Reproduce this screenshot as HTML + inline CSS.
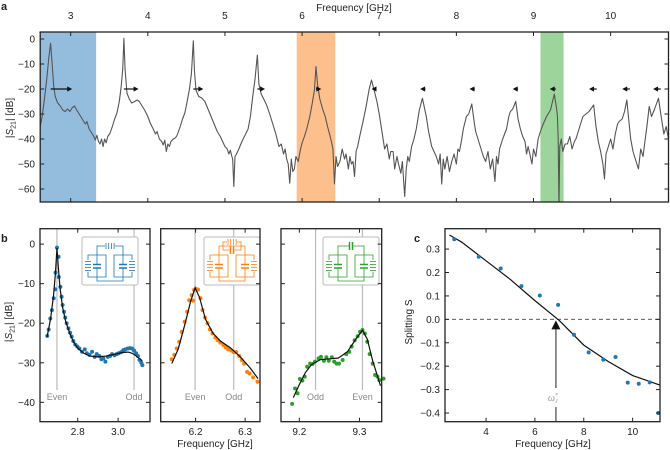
<!DOCTYPE html>
<html><head><meta charset="utf-8"><style>
html,body{margin:0;padding:0;background:#fff;}
svg{display:block;font-family:"Liberation Sans",sans-serif;}
</style></head><body>
<svg id="fig" width="670" height="450" viewBox="0 0 670 450" xmlns="http://www.w3.org/2000/svg"></svg>
<script>
// ---------- Panel a data ----------
const aFreq = [2.605,2.63,2.66,2.69,2.715,2.74,2.76,2.78,2.80,2.83,2.87,2.90,2.93,2.96,2.99,3.02,3.05,3.08,3.11,3.13,3.16,3.19,3.21,3.24,3.27,3.30,3.32,3.34,3.36,3.38,3.40,3.42,3.44,3.46,3.48,3.51,3.54,3.57,3.60,3.63,3.655,3.675,3.69,3.705,3.73,3.76,3.79,3.83,3.86,3.89,3.93,3.96,4.00,4.03,4.07,4.10,4.12,4.15,4.18,4.20,4.22,4.24,4.26,4.28,4.30,4.33,4.36,4.38,4.42,4.45,4.48,4.51,4.54,4.565,4.59,4.605,4.625,4.66,4.70,4.74,4.78,4.82,4.86,4.90,4.94,4.97,5.00,5.03,5.05,5.07,5.09,5.10,5.115,5.13,5.15,5.18,5.22,5.26,5.30,5.33,5.36,5.39,5.42,5.44,5.47,5.51,5.54,5.58,5.62,5.66,5.70,5.73,5.76,5.78,5.80,5.82,5.84,5.86,5.88,5.90,5.92,5.95,5.98,6.00,6.03,6.06,6.10,6.13,6.16,6.18,6.20,6.23,6.27,6.30,6.33,6.36,6.38,6.40,6.42,6.44,6.46,6.49,6.52,6.55,6.57,6.60,6.62,6.64,6.66,6.68,6.70,6.72,6.75,6.79,6.83,6.87,6.90,6.93,6.97,7.00,7.03,7.05,7.07,7.10,7.13,7.15,7.18,7.20,7.23,7.25,7.28,7.30,7.33,7.35,7.37,7.39,7.42,7.45,7.48,7.52,7.56,7.61,7.64,7.68,7.71,7.74,7.77,7.79,7.81,7.83,7.85,7.88,7.91,7.94,7.97,8.00,8.02,8.04,8.07,8.09,8.13,8.16,8.20,8.23,8.25,8.28,8.32,8.35,8.38,8.41,8.44,8.47,8.50,8.52,8.54,8.56,8.60,8.65,8.68,8.70,8.73,8.77,8.80,8.83,8.86,8.89,8.91,8.93,8.95,8.98,9.00,9.03,9.06,9.10,9.14,9.17,9.22,9.27,9.30,9.31,9.32,9.33,9.34,9.36,9.38,9.41,9.44,9.47,9.50,9.53,9.55,9.58,9.61,9.64,9.68,9.72,9.78,9.81,9.84,9.87,9.90,9.92,9.94,9.97,10.00,10.03,10.06,10.09,10.11,10.15,10.18,10.21,10.24,10.26,10.29,10.32,10.36,10.39,10.42,10.44,10.47,10.50,10.53,10.57,10.62,10.65,10.69,10.72,10.75];
const aDb = [-35,-31,-24,-16,-8,-1.7,-10,-19,-23,-25.5,-27,-28.5,-29,-28,-29,-27.5,-26.8,-28.5,-30,-31,-32.5,-34,-33,-36,-37.5,-39,-40.4,-38.5,-41,-42,-40,-43,-40,-41.5,-39,-37.7,-35,-32,-29.6,-25,-19,-12,0.3,-12,-21.7,-24,-25.6,-25,-24.4,-25,-27,-28.5,-31,-33.5,-36,-38,-37,-40,-41,-42.4,-40.5,-45,-42,-43,-41,-40,-39.5,-38.5,-35,-32,-29.6,-25,-20,-14,-0.7,-13,-20.5,-23,-23.6,-25,-28,-31,-34,-37,-39,-41,-43,-44,-46,-44.5,-47,-48,-59,-47,-46,-44,-41,-38.5,-36,-31,-23,-16,-6.4,-18,-22,-24.5,-26.4,-30,-34,-38,-43,-42,-46,-44,-48,-50,-57.7,-48,-53,-52,-47,-49,-44,-41.6,-39,-36,-31,-26,-20.4,-11,-18,-24,-28.4,-31,-35,-38.5,-41,-44,-58,-47,-51,-49,-44,-48,-46,-52,-47,-50,-49,-55,-45,-43,-38.5,-33,-27,-20,-16.4,-20,-25,-30,-36,-40,-44,-42,-48,-45,-45,-52,-47,-50,-53.7,-49,-63,-52,-47,-49,-43,-40,-36,-28.4,-23.7,-31,-37,-43,-45,-47,-50,-46,-58,-48,-52,-47,-53,-49,-46,-50,-44,-45,-40,-36,-31,-30,-26,-33,-37,-40,-44,-47,-49,-45,-52,-48,-57,-47,-50,-44,-40,-36,-31,-29,-28,-25,-32,-36,-39,-41,-46,-43,-45.7,-50,-44,-47,-40,-36,-33,-31,-28.4,-22,-28,-31,-40,-68,-43,-40,-45,-42,-42,-39,-44,-41,-40,-37,-34,-31,-30,-29,-26.4,-35,-41,-45,-50,-56,-46,-43,-40,-44,-38,-34,-33,-32,-29,-24.4,-34,-40,-45,-48,-52,-44,-47,-42,-35,-27,-31,-28,-23.7,-30,-38,-35,-40];
const aXTicks = [3,4,5,6,7,8,9,10];
const aYTicks = [0,-10,-20,-30,-40,-50,-60];
const arrowFrom = [2.74,3.69,4.59,5.42,6.18,6.95,7.60,8.24,8.80,9.29,9.82,10.25,10.65];
const arrowTo   = [3.02,3.88,4.72,5.52,6.25,6.90,7.53,8.17,8.73,9.21,9.72,10.15,10.55];
const bands = [[2.605,3.33,'#94bddd'],[5.93,6.43,'#fdc08d'],[9.09,9.39,'#9dd49c']];

// ---------- Panel b data ----------
const b1F = [2.649,2.656,2.664,2.672,2.681,2.689,2.690,2.697,2.705,2.706,2.714,2.72,2.725,2.732,2.738,2.745,2.754,2.762,2.77,2.778,2.788,2.798,2.808,2.821,2.835,2.845,2.858,2.871,2.884,2.894,2.907,2.917,2.927,2.937,2.949,2.96,2.97,2.982,2.993,3.003,3.015,3.026,3.036,3.048,3.059,3.069,3.079,3.089,3.098,3.106,3.115,3.12];
const b1D = [-23.2,-21.6,-18.8,-16.7,-13.7,-11.4,-7.2,-0.9,-3.2,-8.3,-10.8,-13.3,-15.4,-17.1,-18.6,-20.0,-21.3,-22.4,-23.4,-24.5,-25.4,-25.9,-26.4,-27.2,-26.6,-27.6,-28.0,-27.2,-28.5,-27.8,-28.3,-29.1,-28.9,-29.7,-28.5,-28.3,-27.8,-28.1,-27.8,-27.6,-27.3,-26.8,-26.6,-26.4,-26.3,-26.4,-26.9,-27.6,-28.3,-29.3,-30.0,-30.6];
const b1FitF = [2.648,2.665,2.68,2.69,2.697,2.704,2.712,2.725,2.74,2.76,2.78,2.80,2.83,2.86,2.90,2.94,2.98,3.02,3.05,3.07,3.09,3.12];
const b1FitD = [-23.5,-19,-13,-7,-1,-6,-11,-16,-19.5,-22.5,-24.8,-26.3,-27.6,-28.3,-28.5,-28.3,-27.9,-27.4,-27.3,-27.6,-28.3,-29.5];
const b2F = [6.152,6.157,6.162,6.167,6.172,6.178,6.183,6.187,6.192,6.195,6.197,6.201,6.205,6.21,6.214,6.219,6.224,6.229,6.234,6.24,6.245,6.25,6.256,6.261,6.266,6.272,6.277,6.282,6.288,6.293,6.298,6.304,6.309,6.316,6.325];
const b2D = [-29.1,-28.0,-26.4,-24.7,-22.2,-19.6,-17.1,-14.2,-12.9,-14.3,-11.6,-11.3,-11.5,-13.7,-16.7,-18.6,-20.0,-21.6,-22.6,-23.6,-24.3,-24.9,-25.5,-26.1,-26.6,-26.9,-27.3,-27.3,-28.3,-29.3,-30.2,-32.3,-32.7,-33.7,-34.8];
const b2FitF = [6.152,6.165,6.178,6.19,6.199,6.208,6.22,6.235,6.25,6.27,6.29,6.31,6.326];
const b2FitD = [-30.2,-26.5,-20.5,-14.5,-11,-13.5,-19,-22.5,-24.5,-26.2,-28.5,-31.3,-34.0];
const b3F = [9.188,9.193,9.197,9.201,9.205,9.209,9.213,9.218,9.222,9.226,9.232,9.236,9.241,9.245,9.249,9.254,9.258,9.262,9.266,9.272,9.278,9.283,9.287,9.292,9.297,9.301,9.305,9.309,9.313,9.317,9.322,9.326,9.33,9.333,9.34];
const b3D = [-40.4,-36.5,-37.7,-34.1,-34.5,-33.5,-31.0,-30.2,-30.3,-29.7,-28.9,-28.5,-29.5,-28.6,-29.5,-28.6,-29.7,-30.2,-30.2,-29.3,-27.8,-27.2,-25.9,-24.3,-23.3,-22.2,-21.7,-22.6,-24.7,-27.8,-30.2,-33.1,-33.5,-34.4,-34.0];
const b3FitF = [9.19,9.2,9.21,9.22,9.235,9.25,9.265,9.28,9.295,9.305,9.313,9.322,9.335];
const b3FitD = [-38.8,-35.5,-32.5,-30.5,-29.2,-29.0,-28.8,-27.2,-23.8,-21.8,-24,-29.5,-35.8];
const bYTicks = [0,-10,-20,-30,-40];
const b1XTicks = [2.8,3.0], b2XTicks = [6.2,6.3], b3XTicks = [9.2,9.3];
const b1Lines = [[2.697,'Even'],[3.079,'Odd']];
const b2Lines = [[6.199,'Even'],[6.277,'Odd']];
const b3Lines = [[9.227,'Odd'],[9.305,'Even']];

// ---------- Panel c data ----------
const cF = [2.70,3.70,4.60,5.45,6.20,6.95,7.60,8.20,8.80,9.30,9.80,10.25,10.70,11.05];
const cS = [0.342,0.267,0.217,0.142,0.102,0.062,-0.066,-0.141,-0.172,-0.161,-0.270,-0.275,-0.269,-0.400];
const cFitF = [2.5,3,4,5,6,7,8,9,10,11.1];
const cFitS = [0.36,0.33,0.25,0.17,0.08,-0.005,-0.11,-0.18,-0.24,-0.28];
const cXTicks = [4,6,8,10];
const cYTicks = [0.3,0.2,0.1,0.0,-0.1,-0.2,-0.3,-0.4];
const cOmega = 6.86;

// ---------- drawing ----------
const NS = 'http://www.w3.org/2000/svg';
const svg = document.getElementById('fig');
function mk(tag, attrs, parent){
  const e = document.createElementNS(NS, tag);
  for (const k in attrs) e.setAttribute(k, attrs[k]);
  (parent||svg).appendChild(e);
  return e;
}
function txt(x,y,s,size,anchor,parent,extra){
  const t = mk('text', Object.assign({x:x,y:y,'font-size':size,'text-anchor':anchor||'middle',fill:'#222'}, extra||{}), parent);
  t.textContent = s;
  return t;
}
function fmt(v,d){ return (v<0?'\u2212':'')+Math.abs(v).toFixed(d); }

function axis(x0,x1,y0,y1,f0,f1,v0,v1){
  return {x:f=>x0+(f-f0)/(f1-f0)*(x1-x0), y:v=>y1-(v-v0)/(v1-v0)*(y1-y0), x0,x1,y0,y1};
}
function clip(id,A){
  const defs = mk('defs',{});
  const cp = mk('clipPath',{id:id},defs);
  mk('rect',{x:A.x0,y:A.y0,width:A.x1-A.x0,height:A.y1-A.y0},cp);
}
function frame(A,name){
  const r = mk('rect',{x:A.x0,y:A.y0,width:A.x1-A.x0,height:A.y1-A.y0,fill:'none',stroke:'#222','stroke-width':1.3});
  
  
}
function ticksX(A,vals,labelY,dec,name){
  const g = mk('g',{});
  
  
  vals.forEach(v=>{
    const x=A.x(v);
    mk('line',{x1:x,x2:x,y1:A.y0,y2:A.y0+4,stroke:'#222','stroke-width':1},g);
    mk('line',{x1:x,x2:x,y1:A.y1,y2:A.y1-4,stroke:'#222','stroke-width':1},g);
    if(labelY!==null){
      const t = txt(x,labelY,dec===0?String(v):fmt(v,dec),10,'middle',g);
      
      
    }
  });
}
function ticksY(A,vals,labelX,dec,name){
  const g = mk('g',{});
  
  
  vals.forEach(v=>{
    const y=A.y(v);
    mk('line',{x1:A.x0,x2:A.x0+4,y1:y,y2:y,stroke:'#222','stroke-width':1},g);
    mk('line',{x1:A.x1,x2:A.x1-4,y1:y,y2:y,stroke:'#222','stroke-width':1},g);
    if(labelX!==null){
      const t = txt(labelX,y+3.5,fmt(v,dec),10,'end',g);
      
      
    }
  });
}
function poly(A,fs,vs,attrs,name,clipId){
  const pts = fs.map((f,i)=>A.x(f).toFixed(2)+','+A.y(vs[i]).toFixed(2)).join(' ');
  const a = Object.assign({points:pts,fill:'none'},attrs);
  if(clipId) a['clip-path']='url(#'+clipId+')';
  const p = mk('polyline',a);
  
  
  return p;
}
function dots(A,fs,vs,color,r,name){
  const g = mk('g',{});
  
  
  fs.forEach((f,i)=>{
    const c = mk('circle',{cx:A.x(f),cy:A.y(vs[i]),r:r,fill:color},g);
    
    
  });
}

// ===== Panel a =====
const A = axis(40.2,668.5,32,202,2.605,10.75,-65.2,2.8);
clip('clipA',A);
bands.forEach(b=>{
  const r = mk('rect',{x:A.x(b[0]),y:A.y0,width:A.x(b[1])-A.x(b[0]),height:A.y1-A.y0,fill:b[2]});
  
  
});
poly(A,aFreq,aDb,{stroke:'#555','stroke-width':1.1,'stroke-linejoin':'round'},'s21-trace','clipA');
arrowFrom.forEach((f0,i)=>{
  const f1 = arrowTo[i], y = A.y(-20), x0=A.x(f0), x1=A.x(f1), d = x1>x0?1:-1;
  const g = mk('g',{});
  
  
  mk('line',{x1:x0,x2:x1-d*3,y1:y,y2:y,stroke:'#111','stroke-width':1.2},g);
  mk('polygon',{points:`${x1},${y} ${x1-d*5},${y-2.6} ${x1-d*5},${y+2.6}`,fill:'#111'},g);
});
frame(A,'panel-a-frame');
ticksX(A,aXTicks,null,0,'panel-a-bottom-ticks');
(function(){
  const g = mk('g',{});
  
  
  aXTicks.forEach(v=>{ const t=txt(A.x(v),19,String(v),10,'middle',g);   });
})();
ticksY(A,aYTicks,35,0,'panel-a-y-ticks');
let t;
t = txt(354,11,'Frequency [GHz]',10,'middle');


t = mk('text',{x:0,y:0,'font-size':10,'text-anchor':'middle',fill:'#222',transform:'translate(13,118) rotate(-90)'});
t.innerHTML = '|<tspan font-style="italic">S</tspan><tspan font-size="7" dy="2.5">21</tspan><tspan dy="-2.5">| [dB]</tspan>';


t = txt(1,10,'a',11,'start',null,{'font-weight':'bold'});



// ===== Panel b =====
function circuit(x,y,color,kind,name){
  const g = mk('g',{transform:`translate(${x},${y})`});
  
  
  mk('rect',{x:0,y:0,width:56,height:48,rx:2,fill:'#fff',stroke:'#bbb','stroke-width':1},g);
  const s={stroke:color,'stroke-width':0.8,fill:'none'};
  const loop=(lx,mirror)=>{
    const cx = lx+9, coilX = mirror? lx+18 : lx;
    mk('path',Object.assign({d:`M${lx} 18 H${lx+18} V40 H${lx} Z`},s),g);
    mk('rect',{x:cx-4,y:27.5,width:8,height:3.5,fill:'#fff'},g);
    mk('line',Object.assign({x1:cx-4,x2:cx+4,y1:27.5,y2:27.5},s,{'stroke-width':1.5}),g);
    mk('line',Object.assign({x1:cx-4,x2:cx+4,y1:31,y2:31},s,{'stroke-width':1.5}),g);
    mk('line',Object.assign({x1:cx,x2:cx,y1:18,y2:27.5},s),g);
    mk('line',Object.assign({x1:cx,x2:cx,y1:31,y2:40},s),g);
    mk('rect',{x:coilX-3,y:23,width:6,height:12,fill:'#fff'},g);
    for(let k=0;k<4;k++) mk('line',Object.assign({x1:coilX-3,x2:coilX+3,y1:24.5+k*3,y2:24.5+k*3},s),g);
  };
  loop(6,false); loop(32,true);
  mk('path',Object.assign({d:'M15 18 V9 H41 V18'},s),g);
  mk('path',Object.assign({d:'M15 40 V44 H41 V40'},s),g);
  if(kind==='L'||kind==='LC'){
    const yy = kind==='LC'?5:9;
    if(kind==='LC') mk('path',Object.assign({d:'M19 9 V5 H37 V9'},s),g);
    mk('rect',{x:23,y:yy-3,width:10,height:6,fill:'#fff'},g);
    for(let k=0;k<4;k++) mk('line',Object.assign({x1:24+k*2.7,x2:24+k*2.7,y1:yy-3,y2:yy+3},s),g);
  }
  if(kind==='C'||kind==='LC'){
    const yy = kind==='LC'?13:9;
    if(kind==='LC') mk('path',Object.assign({d:'M19 9 V13 H37 V9'},s),g);
    mk('rect',{x:26.5,y:yy-4,width:3,height:8,fill:'#fff'},g);
    mk('line',Object.assign({x1:26.5,x2:26.5,y1:yy-4,y2:yy+4},s,{'stroke-width':1.5}),g);
    mk('line',Object.assign({x1:29.5,x2:29.5,y1:yy-4,y2:yy+4},s,{'stroke-width':1.5}),g);
  }
}
function subB(x0,x1,f0,f1,F,D,FitF,FitD,xt,lines,color,kind,idx,showY){
  const B = axis(x0,x1,228.7,421.7,f0,f1,-44.9,3.9);
  lines.forEach(l=>{
    const x=B.x(l[0]);
    const ln = mk('line',{x1:x,x2:x,y1:B.y0,y2:390,stroke:'#bbb','stroke-width':1.2});
    
    
    const tt = txt(x,400,l[1],9,'middle',null,{fill:'#888'});
    
    
  });
  circuit([82,204,323][idx], 237, color, kind, 'circuit-inset-'+(idx+1));
  dots(B,F,D,color,2,'measured-points-'+(idx+1));
  poly(B,FitF,FitD,{stroke:'#111','stroke-width':1.2},'fit-line-'+(idx+1));
  frame(B,'panel-b-frame-'+(idx+1));
  ticksX(B,xt,435,1,'panel-b-x-ticks-'+(idx+1));
  ticksY(B,bYTicks,showY?35:null,0,'panel-b-y-ticks-'+(idx+1));
}
subB(40,150,2.613,3.158,b1F,b1D,b1FitF,b1FitD,b1XTicks,b1Lines,'#1f77b4','L',0,true);
subB(160.7,260,6.1296,6.33,b2F,b2D,b2FitF,b2FitD,b2XTicks,b2Lines,'#ff7f0e','LC',1,false);
subB(281,381.7,9.1695,9.337,b3F,b3D,b3FitF,b3FitD,b3XTicks,b3Lines,'#2ca02c','C',2,false);
t = txt(215,447,'Frequency [GHz]',10,'middle');


t = mk('text',{x:0,y:0,'font-size':10,'text-anchor':'middle',fill:'#222',transform:'translate(12,322) rotate(-90)'});
t.innerHTML = '|<tspan font-style="italic">S</tspan><tspan font-size="7" dy="2.5">21</tspan><tspan dy="-2.5">| [dB]</tspan>';


t = txt(1,242,'b',11,'start',null,{'font-weight':'bold'});



// ===== Panel c =====
const C = axis(445,660,228.7,421.7,2.32,11.12,-0.437,0.387);
clip('clipC',C);
let ln = mk('line',{x1:C.x0,x2:C.x1,y1:C.y(0),y2:C.y(0),stroke:'#444','stroke-width':0.9,'stroke-dasharray':'4,3'});


poly(C,cFitF,cFitS,{stroke:'#111','stroke-width':1.2},'splitting-fit-line','clipC');
dots(C,cF,cS,'#1f77b4',2,'splitting-points');
(function(){
  const x=C.x(cOmega), y0=C.y(0);
  const g = mk('g',{});
  
  
  mk('line',{x1:x,x2:x,y1:y0+8,y2:388,stroke:'#555','stroke-width':1.3},g);
  mk('line',{x1:x,x2:x,y1:407,y2:C.y1,stroke:'#555','stroke-width':1.3},g);
  mk('polygon',{points:`${x},${y0+1} ${x-4.5},${y0+10} ${x+4.5},${y0+10}`,fill:'#111'},g);
  const tt = mk('text',{x:x-3,y:401,'font-size':10,'text-anchor':'middle',fill:'#999','font-family':'Liberation Serif, serif','font-style':'italic'},g);
  tt.innerHTML = 'ω<tspan font-size="6" dy="-4">*</tspan><tspan font-size="6" dx="-3" dy="6">J</tspan>';
  
  
})();
frame(C,'panel-c-frame');
ticksX(C,cXTicks,435,0,'panel-c-x-ticks');
ticksY(C,cYTicks,440,1,'panel-c-y-ticks');
t = txt(553,447,'Frequency [GHz]',10,'middle');


t = txt(0,0,'Splitting S',10,'middle',null,{transform:'translate(412,322) rotate(-90)'});


t = txt(414,242,'c',11,'start',null,{'font-weight':'bold'});


</script>
</body></html>
